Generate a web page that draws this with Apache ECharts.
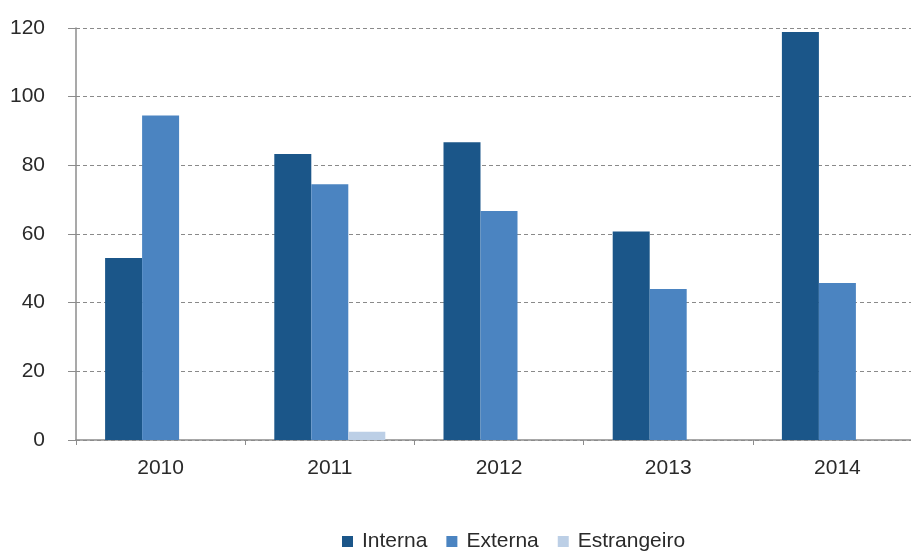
<!DOCTYPE html>
<html>
<head>
<meta charset="utf-8">
<script src="https://cdn.jsdelivr.net/npm/echarts@6/dist/echarts.min.js"></script>
<style>
  html, body { margin: 0; padding: 0; background: #ffffff; overflow: hidden; }
  /* the plot runs slightly past the right edge of the window */
  #chart { width: 922px; height: 552px; }
</style>
</head>
<body>
<div id="chart"></div>
<script>
// Years on the category axis
const years = ['2010', '2011', '2012', '2013', '2014'];

// Series values per year
const interna = [53, 83.3, 86.7, 60.7, 118.8];
const externa = [94.5, 74.5, 66.7, 44, 45.7];
const estrangeiro = [null, 2.4, null, null, null];

// Value axis ticks
const yMin = 0;
const yMax = 120;
const yStep = 20;

const FONT = '"Liberation Sans", Arial, sans-serif';
const TEXT = '#2a2a2a';
const AXIS = '#8c8c8c';

const chart = echarts.init(document.getElementById('chart'), null, { renderer: 'canvas' });

chart.setOption({
  animation: false,
  backgroundColor: '#ffffff',
  grid: { left: 76, top: 28, right: 0, bottom: 112, containLabel: false },
  legend: {
    left: 337,
    top: 526,
    itemWidth: 11,
    itemHeight: 11,
    itemGap: 19,
    icon: 'rect',
    textStyle: { fontFamily: FONT, fontSize: 21, color: TEXT, padding: [0, 0, 0, 4] },
    data: ['Interna', 'Externa', 'Estrangeiro']
  },
  xAxis: {
    type: 'category',
    data: years,
    axisLine: { show: true, lineStyle: { color: AXIS, width: 1.5 } },
    axisTick: { show: true, alignWithLabel: false, length: 5, lineStyle: { color: AXIS } },
    axisLabel: { fontFamily: FONT, fontSize: 21, color: TEXT, margin: 18 },
    splitLine: { show: false }
  },
  yAxis: {
    type: 'value',
    min: yMin,
    max: yMax,
    interval: yStep,
    axisLine: { show: true, lineStyle: { color: AXIS, width: 1.5 } },
    axisTick: { show: true, length: 8, lineStyle: { color: AXIS } },
    axisLabel: { fontFamily: FONT, fontSize: 21, color: TEXT, margin: 31 },
    splitLine: { show: true, lineStyle: { color: '#8a8a8a', type: [4, 3], width: 1 } }
  },
  series: [
    {
      name: 'Interna', type: 'bar', data: interna,
      barWidth: 37, barGap: '0%',
      itemStyle: { color: '#1b5689' }
    },
    {
      name: 'Externa', type: 'bar', data: externa,
      barWidth: 37, barGap: '0%',
      itemStyle: { color: '#4b84c1' }
    },
    {
      name: 'Estrangeiro', type: 'bar', data: estrangeiro,
      barWidth: 37, barGap: '0%',
      itemStyle: { color: '#bccfe6' }
    }
  ]
});
</script>
</body>
</html>
